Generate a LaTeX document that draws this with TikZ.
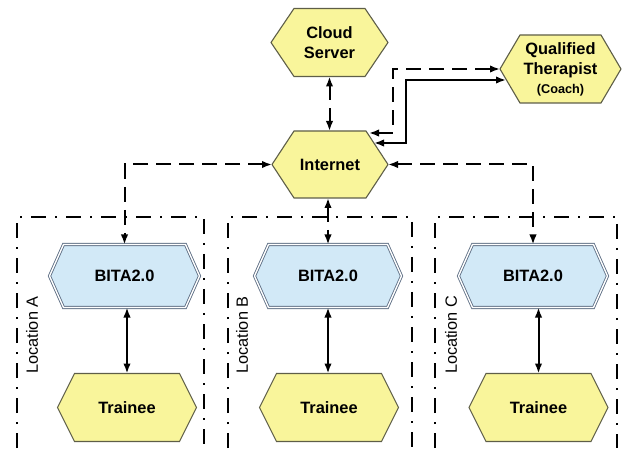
\documentclass[tikz,border=0pt]{standalone}
\usepackage{fontspec}
\setmainfont{Liberation Sans}
\usetikzlibrary{arrows.meta,backgrounds}

\definecolor{hexfill}{HTML}{F9F59B}
\definecolor{hexline}{HTML}{5E5E48}
\definecolor{bitafill}{HTML}{D2E9F7}
\definecolor{bitaline}{HTML}{65758A}

% flat-topped hexagon drawn round a named rectangular node
\newcommand\hexoutline[3]{%
  \path[#3] (#1.west) -- ([xshift=#2]#1.north west) -- ([xshift=-#2]#1.north east)
    -- (#1.east) -- ([xshift=-#2]#1.south east) -- ([xshift=#2]#1.south west) -- cycle;}

\tikzset{
  lbl/.style={font=\fontsize{16.4}{20}\selectfont\bfseries, align=center,
    inner sep=0pt, outer sep=0pt},
  loclbl/.style={font=\fontsize{16.3}{20}\selectfont, inner sep=0pt, rotate=90},
  yhex/.style={fill=hexfill, draw=hexline, line width=1.1pt, line join=miter},
  bhex/.style={fill=bitafill, draw=bitaline, line width=0.9pt, double=white,
    double distance=1.3pt, line join=miter},
  tip/.tip={Latex[length=10pt,width=7.5pt]},
  conn/.style={line width=2pt, tip-tip},
  dashconn/.style={dash pattern=on 15pt off 8pt},
  boxline/.style={line width=2pt, dash pattern=on 15pt off 9pt on 2pt off 9pt},
}

\begin{document}
\begin{tikzpicture}[x=1pt,y=1pt]
\useasboundingbox (0,0) rectangle (622,448);

% location frames (open at the lower edge)
\draw[boxline] (17,0) |- (204,231) -- (204,0);
\draw[boxline] (228,0) |- (412,231) -- (412,0);
\draw[boxline] (435,0) |- (617,231) -- (617,0);

\node[loclbl] (locA) at (32,113) {Location A};
\node[loclbl] (locB) at (242,113) {Location B};
\node[loclbl] (locC) at (451,113) {Location C};

% nodes
\node[lbl, minimum width=117pt, minimum height=68pt] (cloud) at (329.5,405.5) {Cloud\\Server};
\node[lbl, minimum width=116pt, minimum height=67pt] (internet) at (330,283.5) {Internet};
\node[lbl, minimum width=121pt, minimum height=68pt] (therapist) at (560.5,379)
  {Qualified\\Therapist\\[-1pt]{\fontsize{12.7}{15}\selectfont (Coach)}};

\node[lbl, minimum width=150pt, minimum height=63pt] (bitaA) at (124.5,172) {BITA2.0};
\node[lbl, minimum width=147pt, minimum height=63pt] (bitaB) at (328,172) {BITA2.0};
\node[lbl, minimum width=149pt, minimum height=63pt] (bitaC) at (533,172) {BITA2.0};

\node[lbl, minimum width=139pt, minimum height=68pt] (trainA) at (127,40.5) {Trainee};
\node[lbl, minimum width=139pt, minimum height=68pt] (trainB) at (329,40.5) {Trainee};
\node[lbl, minimum width=139pt, minimum height=68pt] (trainC) at (538.5,40.5) {Trainee};

\begin{pgfonlayer}{background}
  \hexoutline{cloud}{23pt}{yhex}
  \hexoutline{internet}{22pt}{yhex}
  \hexoutline{therapist}{20pt}{yhex}
  \hexoutline{bitaA}{14pt}{bhex}
  \hexoutline{bitaB}{14pt}{bhex}
  \hexoutline{bitaC}{14pt}{bhex}
  \hexoutline{trainA}{17pt}{yhex}
  \hexoutline{trainB}{17pt}{yhex}
  \hexoutline{trainC}{17pt}{yhex}
\end{pgfonlayer}

% connectors
\draw[conn, dashconn] (cloud.south) -- (internet.north -| cloud.south);
\draw[conn, dashconn] (internet.south -| bitaB.north) -- (bitaB.north);
\draw[conn, dashconn] (internet.west) -| (bitaA.north);
\draw[conn, dashconn] (internet.east) -| (bitaC.north);

\coordinate (tdash) at ([xshift=-19pt,yshift=-2pt]internet.north east);
\coordinate (tsolid) at ([xshift=-14pt,yshift=-12pt]internet.north east);
\coordinate (tin) at ([xshift=6pt,yshift=-11pt]therapist.west);
\draw[conn, dashconn] (tdash) -- ++(24pt,0) |- (therapist.west);
\draw[conn] (tsolid) -- ++(32pt,0) |- (tin);

\draw[conn] (trainA.north |- bitaA.south) -- (trainA.north);
\draw[conn] (bitaB.south) -- (bitaB.south |- trainB.north);
\draw[conn] (trainC.north |- bitaC.south) -- (trainC.north);
\end{tikzpicture}
\end{document}
